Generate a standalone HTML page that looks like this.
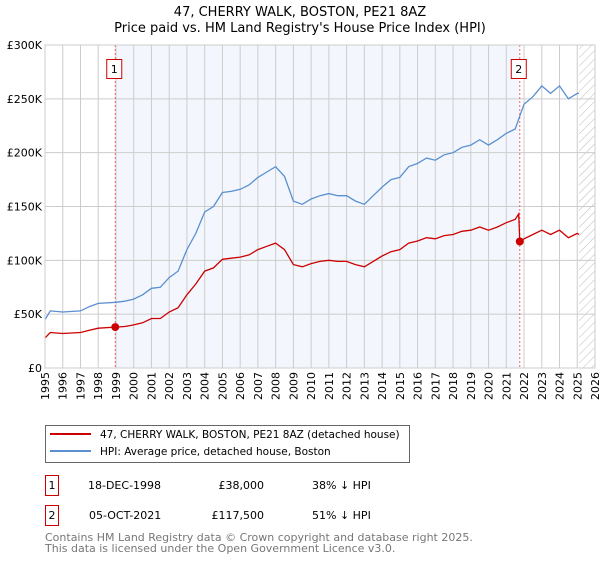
<!DOCTYPE html>
<html><head><meta charset="utf-8"><style>
body{margin:0;background:#fff;font-family:"Liberation Sans","DejaVu Sans",sans-serif;}
svg text{font-family:"DejaVu Sans","Liberation Sans",sans-serif;}
</style></head><body>
<svg width="600" height="560" xmlns="http://www.w3.org/2000/svg">
<defs><pattern id="hatch" width="6" height="6" patternUnits="userSpaceOnUse" patternTransform="rotate(45)"><line x1="0" y1="0" x2="0" y2="6" stroke="#bbb" stroke-width="1"/></pattern></defs>
<text x="300" y="16" text-anchor="middle" font-size="13">47, CHERRY WALK, BOSTON, PE21 8AZ</text>
<text x="300" y="32" text-anchor="middle" font-size="13">Price paid vs. HM Land Registry's House Price Index (HPI)</text>
<g id="plot"></g>
<g id="legend">
<rect x="45.5" y="425.5" width="364" height="37" fill="#fff" stroke="#666"/>
<line x1="50" y1="434" x2="91" y2="434" stroke="#c00" stroke-width="2"/>
<text x="100" y="438" font-size="10.5">47, CHERRY WALK, BOSTON, PE21 8AZ (detached house)</text>
<line x1="50" y1="451" x2="91" y2="451" stroke="#5b8fd0" stroke-width="2"/>
<text x="100" y="455" font-size="10.5">HPI: Average price, detached house, Boston</text>
</g>
<g font-size="11">
<rect x="45.5" y="475.5" width="13" height="20" fill="#fff" stroke="#c00"/>
<text x="52" y="489" text-anchor="middle">1</text>
<text x="88" y="489">18-DEC-1998</text>
<text x="264" y="489" text-anchor="end">£38,000</text>
<text x="312" y="489">38% ↓ HPI</text>
<rect x="45.5" y="505.5" width="13" height="20" fill="#fff" stroke="#c00"/>
<text x="52" y="519" text-anchor="middle">2</text>
<text x="89" y="519">05-OCT-2021</text>
<text x="264" y="519" text-anchor="end">£117,500</text>
<text x="312" y="519">51% ↓ HPI</text>
</g>
<text x="45" y="541" font-size="11" fill="#777">Contains HM Land Registry data © Crown copyright and database right 2025.</text>
<text x="45" y="552" font-size="11" fill="#777">This data is licensed under the Open Government Licence v3.0.</text>
</svg>
<script>
const years=[1995,1995.3,1996,1997,1997.5,1998,1999,1999.5,2000,2000.5,2001,2001.5,2002,2002.5,2003,2003.5,2004,2004.5,2005,2005.5,2006,2006.5,2007,2007.5,2008,2008.5,2009,2009.5,2010,2010.5,2011,2011.5,2012,2012.5,2013,2013.5,2014,2014.5,2015,2015.5,2016,2016.5,2017,2017.5,2018,2018.5,2019,2019.5,2020,2020.5,2021,2021.5,2022,2022.5,2023,2023.5,2024,2024.5,2025,2025.1];
const hpi=[45,53,52,53,57,60,61,62,64,68,74,75,84,90,110,125,145,150,163,164,166,170,177,182,187,178,155,152,157,160,162,160,160,155,152,160,168,175,177,187,190,195,193,198,200,205,207,212,207,212,218,222,245,252,262,255,262,250,255,255];
const propYears=[1995,1995.3,1996,1997,1997.5,1998,1998.96,1999.5,2000,2000.5,2001,2001.5,2002,2002.5,2003,2003.5,2004,2004.5,2005,2005.5,2006,2006.5,2007,2007.5,2008,2008.5,2009,2009.5,2010,2010.5,2011,2011.5,2012,2012.5,2013,2013.5,2014,2014.5,2015,2015.5,2016,2016.5,2017,2017.5,2018,2018.5,2019,2019.5,2020,2020.5,2021,2021.5,2021.7,2021.76,2022,2022.5,2023,2023.5,2024,2024.5,2025,2025.1];
const prop=[28,33,32,33,35,37,38,38.5,40,42,46,46,52,56,68,78,90,93,101,102,103,105,110,113,116,110,96,94,97,99,100,99,99,96,94,99,104,108,110,116,118,121,120,123,124,127,128,131,128,131,135,138,143,117.5,120,124,128,124,128,121,125,124];
const saleYears=[1998.96,2021.76];
const saleVals=[38,117.5];
const yTicks=[0,50,100,150,200,250,300];
const yLabels=["£0","£50K","£100K","£150K","£200K","£250K","£300K"];
const x0=45,x1=595,yTop=45,yBot=368;
const X=y=>x0+(y-1995)*(x1-x0)/31;
const Y=v=>yBot-v*(yBot-yTop)/300;
const NS="http://www.w3.org/2000/svg";
const g=document.getElementById('plot');
function mk(t,a,p){const e=document.createElementNS(NS,t);for(const k in a)e.setAttribute(k,a[k]);(p||g).appendChild(e);return e;}
let e=mk('rect',{x:X(saleYears[0]),y:yTop,width:X(saleYears[1])-X(saleYears[0]),height:yBot-yTop,fill:'#eef3fc',opacity:0.7});


e=mk('rect',{x:X(2025.1),y:yTop,width:x1-X(2025.1),height:yBot-yTop,fill:'url(#hatch)'});


for(let yr=1995;yr<=2026;yr++){
 e=mk('line',{x1:X(yr),x2:X(yr),y1:yTop,y2:yBot,stroke:'#ccc','stroke-width':1});
 
 
 const gg=mk('g',{transform:'translate('+(X(yr)+4)+','+(yBot+4)+') rotate(-90)'});
 const t=mk('text',{x:0,y:0,'font-size':11,'text-anchor':'end'},gg);
 t.textContent=yr;
 
 
}
yTicks.forEach((v,i)=>{
 e=mk('line',{x1:x0,x2:x1,y1:Y(v),y2:Y(v),stroke:'#ccc','stroke-width':1});
 
 
 const t=mk('text',{x:x0-3,y:Y(v)+4,'font-size':11,'text-anchor':'end'});
 t.textContent=yLabels[i];
 
 
});
saleYears.forEach((yr,i)=>{
 e=mk('line',{x1:X(yr),x2:X(yr),y1:yTop,y2:yBot,stroke:'#e66','stroke-width':1,'stroke-dasharray':'2,2'});
 
 
 e=mk('rect',{x:X(yr)-8.5,y:59.5,width:15,height:19,fill:'#fff',stroke:'#c00'});
 
 
 const t=mk('text',{x:X(yr)-1,y:73,'font-size':11,'text-anchor':'middle'});
 t.textContent=String(i+1);
 
 
});
e=mk('path',{d:years.map((y,i)=>(i?'L':'M')+X(y).toFixed(1)+','+Y(hpi[i]).toFixed(1)).join(''),fill:'none',stroke:'#5b8fd0','stroke-width':1.3});


e=mk('path',{d:propYears.map((y,i)=>(i?'L':'M')+X(y).toFixed(1)+','+Y(prop[i]).toFixed(1)).join(''),fill:'none',stroke:'#c00','stroke-width':1.3});


saleYears.forEach((yr,i)=>{
 e=mk('circle',{cx:X(yr),cy:Y(saleVals[i]),r:4,fill:'#c00'});
 
 
});
e=mk('rect',{x:x0,y:yTop,width:x1-x0,height:yBot-yTop,fill:'none',stroke:'#ccc'});


</script>
</body></html>
